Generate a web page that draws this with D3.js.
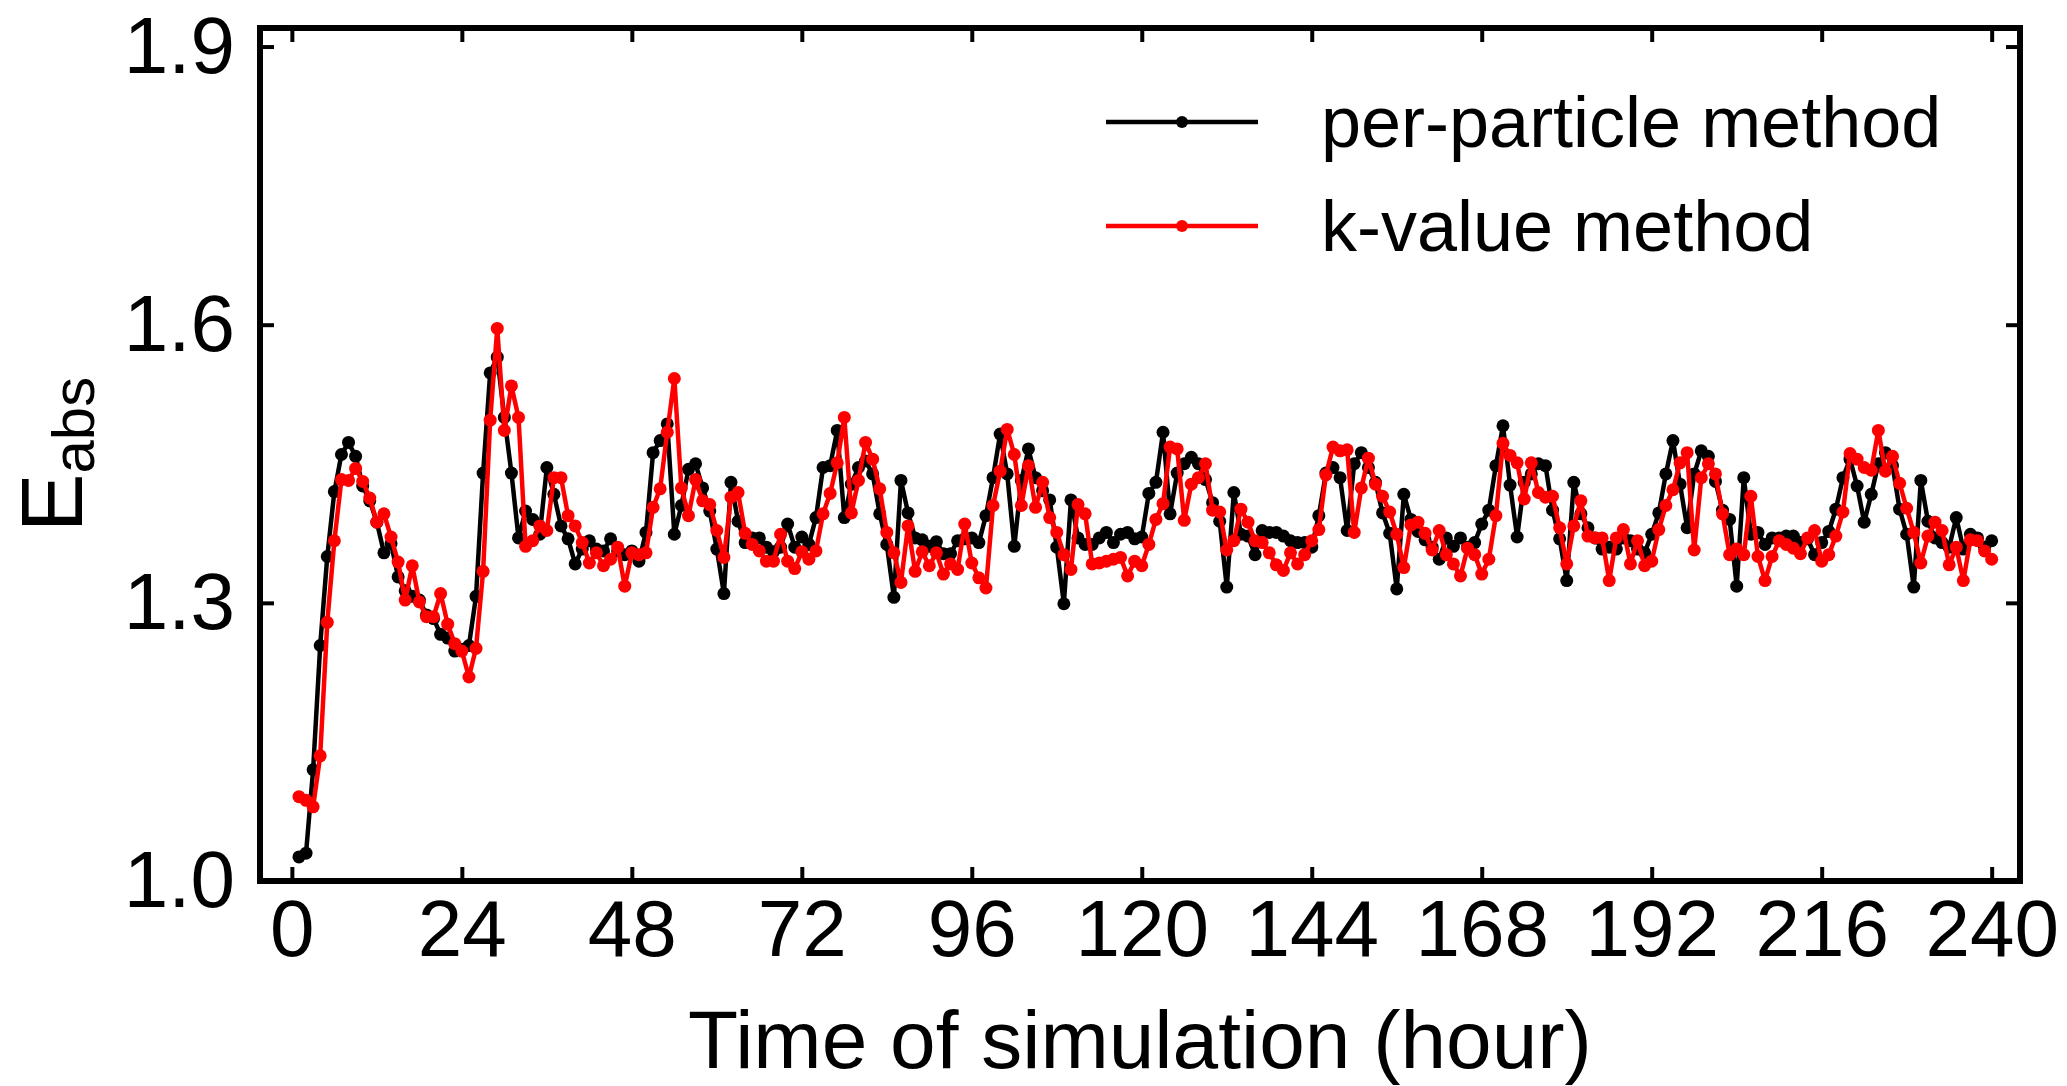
<!DOCTYPE html>
<html>
<head>
<meta charset="utf-8">
<script src="https://cdn.jsdelivr.net/npm/d3@7"></script>
<style>
  body { margin: 0; background: #fff; }
  svg { display: block; font-family: 'Liberation Sans', Arial, sans-serif; }
</style>
</head>
<body>
<svg width="2067" height="1086"></svg>
<script>
// E_abs per hour of simulation, hours 1..240
let perParticle = [
  1.026, 1.030, 1.120, 1.254, 1.350, 1.420, 1.460, 1.473, 1.458, 1.426,
  1.410, 1.387, 1.354, 1.364, 1.328, 1.313, 1.307, 1.303, 1.287, 1.283,
  1.266, 1.262, 1.248, 1.250, 1.254, 1.307, 1.440, 1.548, 1.565, 1.500,
  1.440, 1.370, 1.399, 1.390, 1.374, 1.446, 1.417, 1.383, 1.369, 1.342,
  1.358, 1.367, 1.358, 1.356, 1.369, 1.356, 1.352, 1.356, 1.345, 1.376,
  1.462, 1.475, 1.493, 1.374, 1.405, 1.444, 1.450, 1.424, 1.399, 1.358,
  1.310, 1.430, 1.388, 1.365, 1.370, 1.370, 1.360, 1.355, 1.360, 1.385,
  1.360, 1.371, 1.363, 1.392, 1.446, 1.448, 1.486, 1.392, 1.428, 1.446,
  1.453, 1.439, 1.396, 1.363, 1.306, 1.432, 1.397, 1.370, 1.368, 1.361,
  1.366, 1.353, 1.353, 1.367, 1.369, 1.370, 1.365, 1.394, 1.435, 1.482,
  1.439, 1.361, 1.432, 1.466, 1.435, 1.421, 1.411, 1.360, 1.299, 1.411,
  1.370, 1.363, 1.363, 1.370, 1.376, 1.365, 1.374, 1.376, 1.369, 1.371,
  1.418, 1.430, 1.484, 1.396, 1.440, 1.450, 1.457, 1.450, 1.433, 1.408,
  1.388, 1.317, 1.419, 1.374, 1.372, 1.352, 1.378, 1.376, 1.376, 1.372,
  1.367, 1.365, 1.365, 1.360, 1.394, 1.440, 1.446, 1.435, 1.378, 1.450,
  1.462, 1.446, 1.430, 1.397, 1.375, 1.315, 1.417, 1.390, 1.377, 1.368,
  1.360, 1.347, 1.370, 1.361, 1.370, 1.360, 1.365, 1.385, 1.400, 1.448,
  1.491, 1.427, 1.371, 1.430, 1.439, 1.450, 1.448, 1.400, 1.369, 1.324,
  1.430, 1.396, 1.381, 1.370, 1.358, 1.360, 1.358, 1.370, 1.367, 1.358,
  1.354, 1.374, 1.397, 1.439, 1.475, 1.428, 1.381, 1.439, 1.464, 1.458,
  1.431, 1.400, 1.390, 1.318, 1.435, 1.374, 1.376, 1.363, 1.370, 1.370,
  1.372, 1.372, 1.365, 1.369, 1.352, 1.365, 1.377, 1.401, 1.435, 1.455,
  1.426, 1.387, 1.417, 1.450, 1.462, 1.448, 1.401, 1.374, 1.317, 1.432,
  1.388, 1.370, 1.365, 1.360, 1.392, 1.358, 1.374, 1.370, 1.360, 1.367
]

let kValue = [
  1.091, 1.087, 1.080, 1.135, 1.279, 1.367, 1.433, 1.432, 1.445, 1.431,
  1.413, 1.387, 1.396, 1.371, 1.344, 1.303, 1.340, 1.301, 1.285, 1.285,
  1.310, 1.277, 1.256, 1.248, 1.220, 1.251, 1.334, 1.497, 1.596, 1.486,
  1.534, 1.500, 1.361, 1.367, 1.383, 1.378, 1.435, 1.435, 1.394, 1.383,
  1.365, 1.343, 1.354, 1.340, 1.347, 1.360, 1.318, 1.354, 1.352, 1.354,
  1.403, 1.423, 1.484, 1.542, 1.424, 1.394, 1.433, 1.410, 1.406, 1.378,
  1.349, 1.414, 1.419, 1.375, 1.363, 1.356, 1.345, 1.345, 1.374, 1.345,
  1.337, 1.355, 1.347, 1.356, 1.396, 1.418, 1.451, 1.500, 1.397, 1.432,
  1.473, 1.455, 1.423, 1.376, 1.354, 1.322, 1.383, 1.334, 1.355, 1.340,
  1.354, 1.331, 1.342, 1.336, 1.385, 1.343, 1.327, 1.316, 1.405, 1.442,
  1.487, 1.460, 1.405, 1.448, 1.403, 1.430, 1.392, 1.376, 1.352, 1.336,
  1.406, 1.396, 1.342, 1.343, 1.345, 1.347, 1.349, 1.329, 1.345, 1.340,
  1.363, 1.390, 1.407, 1.468, 1.466, 1.389, 1.428, 1.435, 1.450, 1.400,
  1.398, 1.357, 1.367, 1.401, 1.387, 1.367, 1.365, 1.354, 1.341, 1.335,
  1.354, 1.342, 1.352, 1.367, 1.379, 1.438, 1.468, 1.464, 1.465, 1.376,
  1.424, 1.456, 1.428, 1.415, 1.398, 1.374, 1.338, 1.384, 1.387, 1.375,
  1.357, 1.378, 1.352, 1.342, 1.329, 1.359, 1.352, 1.331, 1.347, 1.394,
  1.472, 1.459, 1.451, 1.412, 1.451, 1.419, 1.414, 1.415, 1.381, 1.342,
  1.383, 1.410, 1.372, 1.370, 1.370, 1.324, 1.370, 1.379, 1.342, 1.367,
  1.340, 1.345, 1.379, 1.405, 1.422, 1.451, 1.462, 1.357, 1.435, 1.450,
  1.439, 1.396, 1.352, 1.358, 1.352, 1.415, 1.350, 1.324, 1.350, 1.367,
  1.363, 1.359, 1.353, 1.370, 1.378, 1.345, 1.352, 1.372, 1.398, 1.461,
  1.455, 1.446, 1.443, 1.486, 1.442, 1.458, 1.429, 1.402, 1.376, 1.343,
  1.372, 1.387, 1.378, 1.341, 1.360, 1.324, 1.368, 1.367, 1.356, 1.347
]

let hours = perParticle.map((v, i) => i + 1)

let xTicks = [0, 24, 48, 72, 96, 120, 144, 168, 192, 216, 240]
let yTicks = [1.0, 1.3, 1.6, 1.9]

let seriesNames = ['per-particle method', 'k-value method']
let seriesColors = ['#000000', '#ff0000']

let svg = d3.select('svg')

let plotLeft = 260, plotRight = 2020, plotTop = 28, plotBottom = 881

let x = d3.scaleLinear().domain([-4.5, 244]).range([plotLeft, plotRight])
let y = d3.scaleLinear().domain([1.0, 1.92]).range([plotBottom, plotTop])

// axes with inward ticks on all four sides
let styleAxis = g => {
    g.select('.domain').remove()
    g.selectAll('.tick line').attr('stroke', '#000').attr('stroke-width', 4)
    g.selectAll('.tick text').attr('fill', '#000').style('font-size', '80px')
        .style('font-family', "'Liberation Sans', Arial, sans-serif")
}

svg.append('g')
    .attr('transform', `translate(0,${plotBottom})`)
    .call(d3.axisBottom(x).tickValues(xTicks).tickSizeInner(-14).tickSizeOuter(0).tickPadding(18))
    .call(styleAxis)

svg.append('g')
    .attr('transform', `translate(0,${plotTop})`)
    .call(d3.axisTop(x).tickValues(xTicks).tickSizeInner(-14).tickSizeOuter(0).tickFormat(''))
    .call(styleAxis)

svg.append('g')
    .attr('transform', `translate(${plotLeft},0)`)
    .call(d3.axisLeft(y).tickValues(yTicks).tickSizeInner(-14).tickSizeOuter(0).tickPadding(25)
        .tickFormat(d3.format('.1f')))
    .call(styleAxis)

svg.append('g')
    .attr('transform', `translate(${plotRight},0)`)
    .call(d3.axisRight(y).tickValues(yTicks).tickSizeInner(-14).tickSizeOuter(0).tickFormat(''))
    .call(styleAxis)

// series
let line = d3.line()
    .x((d, i) => x(hours[i]))
    .y(d => y(d))

let allSeries = [perParticle, kValue]

allSeries.forEach((vals, s) => {
    let g = svg.append('g')
    g.append('path')
        .datum(vals)
        .attr('d', line)
        .attr('fill', 'none')
        .attr('stroke', seriesColors[s])
        .attr('stroke-width', 4.5)
        .attr('stroke-linejoin', 'round')
    g.selectAll('circle')
        .data(vals)
        .enter()
        .append('circle')
        .attr('cx', (d, i) => x(hours[i]))
        .attr('cy', d => y(d))
        .attr('r', 6.5)
        .attr('fill', seriesColors[s])
})

// frame
svg.append('rect')
    .attr('x', plotLeft)
    .attr('y', plotTop)
    .attr('width', plotRight - plotLeft)
    .attr('height', plotBottom - plotTop)
    .attr('fill', 'none')
    .attr('stroke', '#000')
    .attr('stroke-width', 6)

// legend
let legend = svg.append('g')
seriesNames.forEach((name, i) => {
    let ly = 122 + i * 104
    legend.append('line')
        .attr('x1', 1106).attr('x2', 1258)
        .attr('y1', ly).attr('y2', ly)
        .attr('stroke', seriesColors[i])
        .attr('stroke-width', 4.5)
    legend.append('circle')
        .attr('cx', 1182).attr('cy', ly).attr('r', 6)
        .attr('fill', seriesColors[i])
    legend.append('text')
        .attr('x', 1321)
        .attr('y', ly + 25)
        .style('font-size', '72px')
        .text(name)
})

// axis titles
svg.append('text')
    .attr('x', (plotLeft + plotRight) / 2)
    .attr('y', 1068)
    .attr('text-anchor', 'middle')
    .style('font-size', '82px')
    .text('Time of simulation (hour)')

let yTitle = svg.append('text')
    .attr('transform', `translate(82,${(plotTop + plotBottom) / 2}) rotate(-90)`)
    .attr('text-anchor', 'middle')
    .style('font-size', '88px')
yTitle.append('tspan').text('E')
yTitle.append('tspan')
    .attr('dy', 12)
    .style('font-size', '60px')
    .text('abs')
</script>
</body>
</html>
